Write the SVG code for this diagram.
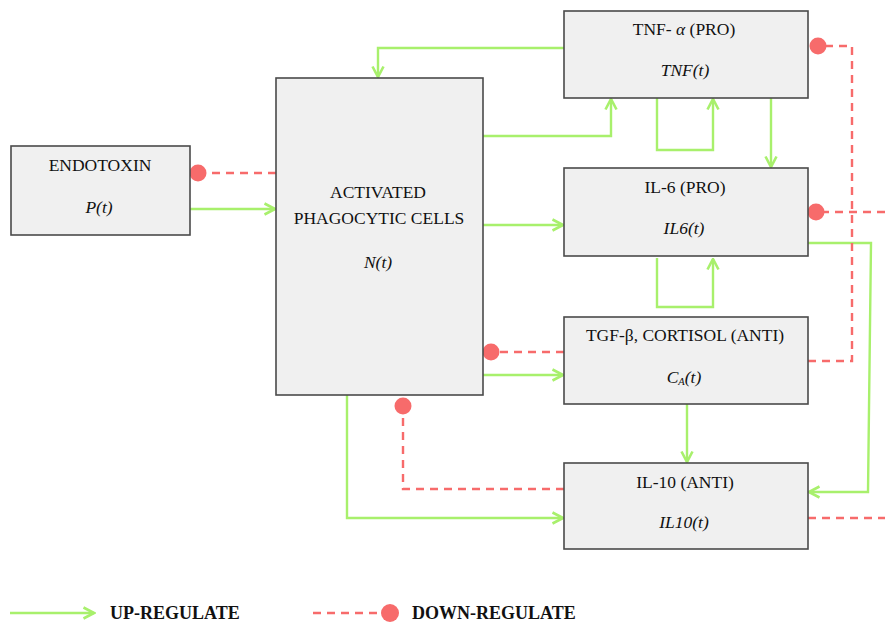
<svg xmlns="http://www.w3.org/2000/svg" width="885" height="623" viewBox="0 0 885 623">
<style>
.box{fill:#f0f0f0;stroke:#4a4a4a;stroke-width:1.6}
.t{font-family:"Liberation Serif","DejaVu Serif",serif;font-size:17.5px;fill:#111;text-anchor:middle}
.i{font-style:italic}
.up{fill:none;stroke:#a8f06c;stroke-width:2.4;stroke-linejoin:miter}
.dn{fill:none;stroke:#f76b6b;stroke-width:2.4;stroke-dasharray:8,6}
.dot{fill:#f76b6b}
.lg{font-family:"Liberation Serif","DejaVu Serif",serif;font-size:18px;font-weight:bold;fill:#111}
</style>
<defs>
<marker id="arr" viewBox="0 0 14 14" refX="12.5" refY="7" markerWidth="14" markerHeight="14" markerUnits="userSpaceOnUse" orient="auto">
<path d="M2,1.5 L12.5,7 L2,12.5" fill="none" stroke="#a8f06c" stroke-width="2.6"/>
</marker>
</defs>
<g id="connectors">
<polyline class="up" points="564,48 378,48 378,77" marker-end="url(#arr)"/>
<polyline class="up" points="483,136 611,136 611,99" marker-end="url(#arr)"/>
<polyline class="up" points="657,98 657,150 713,150 713,99" marker-end="url(#arr)"/>
<line class="up" x1="771" y1="98" x2="771" y2="167" marker-end="url(#arr)"/>
<polyline class="up" points="657,258 657,307 713,307 713,259" marker-end="url(#arr)"/>
<line class="up" x1="483" y1="225" x2="563" y2="225" marker-end="url(#arr)"/>
<polyline class="up" points="808,243 871,243 868,492 809,492" marker-end="url(#arr)"/>
<line class="up" x1="483" y1="375" x2="563" y2="375" marker-end="url(#arr)"/>
<line class="up" x1="687" y1="404" x2="687" y2="462" marker-end="url(#arr)"/>
<polyline class="up" points="347,395 347,518 563,518" marker-end="url(#arr)"/>
<line class="up" x1="190" y1="209" x2="275" y2="209" marker-end="url(#arr)"/>
<polyline class="dn" points="808,361 852,361 852,46 818,46"/>
<circle class="dot" cx="818" cy="46" r="8.5"/>
<line class="dn" x1="885" y1="212" x2="816" y2="212"/>
<circle class="dot" cx="816" cy="212" r="8.5"/>
<line class="dn" x1="808" y1="518" x2="885" y2="518"/>
<line class="dn" x1="564" y1="352" x2="491" y2="352"/>
<circle class="dot" cx="491" cy="352" r="8.5"/>
<polyline class="dn" points="564,489 403,489 403,406"/>
<circle class="dot" cx="403" cy="406" r="8.5"/>
<line class="dn" x1="276" y1="173" x2="198" y2="173"/>
<circle class="dot" cx="198" cy="173" r="8.5"/>
</g>
<g id="endotoxin">
<rect class="box" x="11" y="146" width="179" height="89"/>
<text class="t" x="100" y="171">ENDOTOXIN</text>
<text class="t i" x="99" y="213">P(t)</text>
</g>
<g id="phagocytic">
<rect class="box" x="276" y="78" width="207" height="317"/>
<text class="t" x="378" y="198">ACTIVATED</text>
<text class="t" x="379" y="224">PHAGOCYTIC CELLS</text>
<text class="t i" x="378" y="268">N(t)</text>
</g>
<g id="tnf">
<rect class="box" x="564" y="11" width="244" height="87"/>
<text class="t" x="684" y="35">TNF- <tspan class="i">α</tspan> (PRO)</text>
<text class="t i" x="685" y="76">TNF(t)</text>
</g>
<g id="il6">
<rect class="box" x="564" y="168" width="244" height="88"/>
<text class="t" x="685" y="193">IL-6 (PRO)</text>
<text class="t i" x="684" y="234">IL6(t)</text>
</g>
<g id="tgf">
<rect class="box" x="564" y="317" width="244" height="87"/>
<text class="t" x="685" y="341">TGF-β, CORTISOL (ANTI)</text>
<text class="t i" x="684" y="383">C<tspan font-size="10.5" dy="2">A</tspan><tspan dy="-2">(t)</tspan></text>
</g>
<g id="il10">
<rect class="box" x="564" y="463" width="244" height="86"/>
<text class="t" x="685" y="488">IL-10 (ANTI)</text>
<text class="t i" x="684" y="528">IL10(t)</text>
</g>
<g id="legend">
<line class="up" x1="10" y1="613" x2="94" y2="613" marker-end="url(#arr)"/>
<text class="lg" x="110" y="619">UP-REGULATE</text>
<line class="dn" x1="313" y1="613" x2="384" y2="613"/>
<circle class="dot" cx="390" cy="613" r="9"/>
<text class="lg" x="412" y="619">DOWN-REGULATE</text>
</g>
</svg>
